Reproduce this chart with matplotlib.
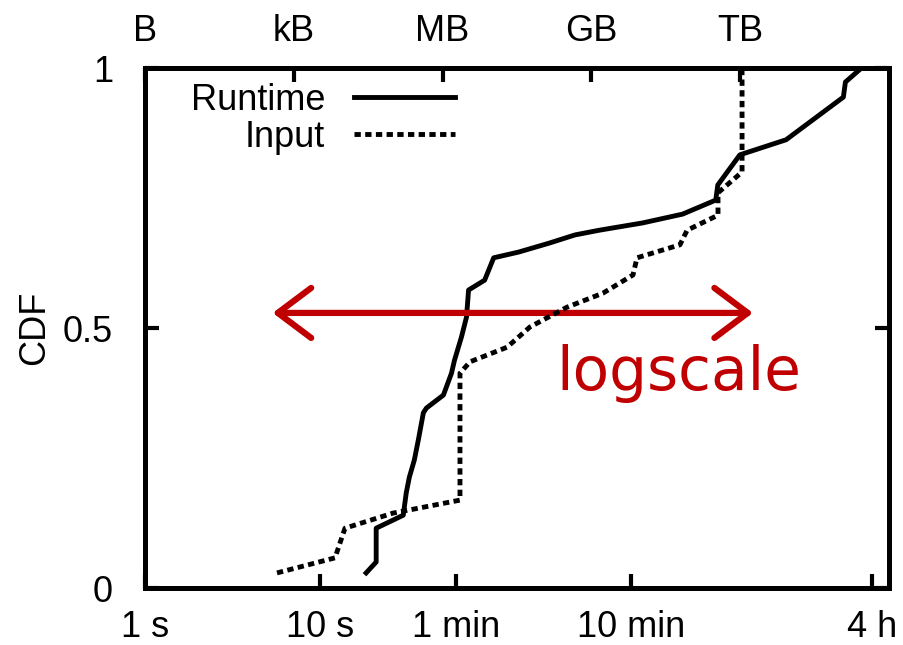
import numpy as np
import matplotlib
matplotlib.use('Agg')
import matplotlib.pyplot as plt

# Runtime CDF (seconds)
runtime_s = [18.4, 21.0, 21.0, 30.0, 31.2, 32.5, 34.7, 36.6, 39.1, 40.7, 50.9,
             56.6, 58.9, 64.6, 69.0, 70.9, 87.6, 98.7, 137, 204, 288, 396,
             700, 1188, 1838, 1888, 2525, 4642, 9870, 10140, 12530]
runtime_cdf = [0.029, 0.05, 0.115, 0.14, 0.183, 0.213, 0.246, 0.285, 0.337, 0.346, 0.371,
               0.413, 0.438, 0.483, 0.521, 0.573, 0.592, 0.635, 0.646, 0.663, 0.679, 0.688,
               0.702, 0.719, 0.746, 0.775, 0.833, 0.862, 0.944, 0.973, 1.0]

# Input size CDF (bytes)
input_b = [458, 6770, 10770, 1.0e5, 2.24e6, 2.24e6, 3.57e6, 1.99e7, 5.78e7, 3.22e8,
           1.71e9, 6.9e9, 8.3e9, 6.1e10, 8.5e10, 3.57e11, 3.57e11, 1.09e12, 1.09e12, 8.2e11]
input_cdf = [0.029, 0.058, 0.115, 0.144, 0.169, 0.413, 0.435, 0.463, 0.502, 0.540,
             0.567, 0.602, 0.635, 0.660, 0.688, 0.717, 0.760, 0.800, 0.996, 1.0]

time_ticks = [1, 10, 60, 600, 14400]
time_labels = ['1 s', '10 s', '1 min', '10 min', '4 h']
size_ticks = [1, 1e3, 1e6, 1e9, 1e12]
size_labels = ['B', 'kB', 'MB', 'GB', 'TB']

plt.rcParams['font.family'] = ['Liberation Sans', 'DejaVu Sans']
red = '#C00000'
fs = 26

fig = plt.figure(figsize=(9.04, 6.45), dpi=100)
ax = fig.add_axes([145/904, 1-588/645, 744/904, 520/645])
ax2 = ax.twiny()

ax.set_xscale('log')
ax.set_xlim(1, 18000)
ax.set_ylim(0, 1)
ax2.set_xscale('log')
ax2.set_xlim(1, 1e15)

l1, = ax.plot(runtime_s, runtime_cdf, color='black', lw=3.5, label='Runtime')
l2, = ax2.plot(input_b, input_cdf, color='black', lw=3.5,
               linestyle=(0, (1.3, 0.9)), label='Input')

ax.set_xticks(time_ticks)
ax.set_xticklabels(time_labels)
ax.xaxis.set_minor_locator(matplotlib.ticker.NullLocator())
ax2.set_xticks(size_ticks)
ax2.set_xticklabels(size_labels)
ax2.xaxis.set_minor_locator(matplotlib.ticker.NullLocator())
ax.set_yticks([0, 0.5, 1])
ax.set_yticklabels(['0', '0.5', '1'])

ax.tick_params(axis='x', direction='in', length=10, width=3, labelsize=fs, pad=16, top=False)
ax.tick_params(axis='y', direction='in', length=10, width=3, labelsize=fs, pad=23, right=True)
ax2.tick_params(axis='x', direction='in', length=10, width=3, labelsize=fs, pad=14)
for a in (ax, ax2):
    for s in a.spines.values():
        s.set_linewidth(3.5)

ax.set_ylabel('CDF', fontsize=fs)
ax.yaxis.set_label_coords(-0.125, 0.5)

leg = ax2.legend([l1, l2], ['Runtime', 'Input'], loc='upper right',
                 bbox_to_anchor=(455/904, 1-83/645), bbox_transform=fig.transFigure,
                 frameon=False, markerfirst=False, fontsize=fs, handlelength=2.8,
                 handletextpad=0.8, labelspacing=0.05, borderpad=0, borderaxespad=0)

# red double arrow across the log axis
ax.annotate('', xy=(5.37, 0.529), xytext=(3000, 0.529), annotation_clip=False,
            arrowprops=dict(arrowstyle='<->, head_length=1.2, head_width=0.9',
                            color=red, lw=4.5, mutation_scale=20,
                            shrinkA=0, shrinkB=0))
ax.text(1127, 0.413, 'logscale', color=red, fontsize=43,
        ha='center', va='center', family='DejaVu Sans')

fig.savefig('out.png', dpi=100)
